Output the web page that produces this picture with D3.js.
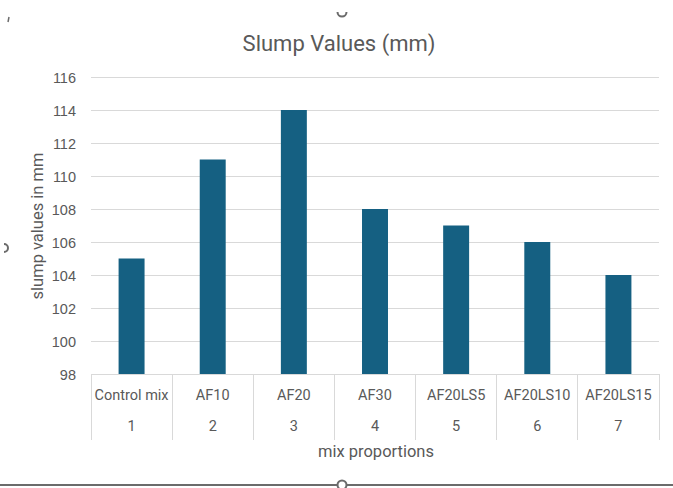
<!DOCTYPE html>
<html>
<head>
<meta charset="utf-8">
<script src="https://cdn.jsdelivr.net/npm/d3@7/dist/d3.min.js"></script>
<style>
  html, body { margin: 0; padding: 0; background: #fff; }
  svg { display: block; font-family: Roboto, "Open Sans", sans-serif; }
</style>
</head>
<body>
<svg id="chart" width="673" height="488"></svg>
<script>
// Slump test results per mix
const mixNames = ["Control mix", "AF10", "AF20", "AF30", "AF20LS5", "AF20LS10", "AF20LS15"];
const mixNumbers = ["1", "2", "3", "4", "5", "6", "7"];
const slumpValues = [105, 111, 114, 108, 107, 106, 104];
const yTicks = [98, 100, 102, 104, 106, 108, 110, 112, 114, 116];

const svg = d3.select("#chart");
const W = 673, H = 488;
const plot = { left: 91, right: 659, top: 77, bottom: 374 };
const textColor = "#595959";
const gridColor = "#d9d9d9";

const x = d3.scaleBand()
  .domain(d3.range(mixNames.length))
  .range([plot.left, plot.right])
  .paddingInner(0)
  .paddingOuter(0);

const y = d3.scaleLinear()
  .domain([98, 116])
  .range([plot.bottom, plot.top]);

// horizontal gridlines
svg.append("g")
  .selectAll("line")
  .data(yTicks)
  .join("line")
  .attr("x1", plot.left).attr("x2", plot.right)
  .attr("y1", d => y(d)).attr("y2", d => y(d))
  .attr("stroke", gridColor).attr("stroke-width", 1)
  .attr("shape-rendering", "crispEdges");

// y axis labels
const yAxis = d3.axisLeft(y).tickValues(yTicks).tickSize(0).tickPadding(15);
const yg = svg.append("g").attr("transform", `translate(${plot.left},0)`).call(yAxis);
yg.select(".domain").remove();
yg.selectAll("text").attr("fill", textColor).style("font-size", "14.5px").attr("dy", "0.35em");

// bars
const barW = x.bandwidth() * 0.32;
svg.append("g")
  .selectAll("rect")
  .data(slumpValues)
  .join("rect")
  .attr("x", (d, i) => x(i) + (x.bandwidth() - barW) / 2)
  .attr("width", barW)
  .attr("y", d => y(d))
  .attr("height", d => y(98) - y(d))
  .attr("fill", "#156082");

// category axis line and multi-level dividers
const axisG = svg.append("g").attr("stroke", gridColor).attr("shape-rendering", "crispEdges");
axisG.append("line")
  .attr("x1", plot.left).attr("x2", plot.right)
  .attr("y1", plot.bottom).attr("y2", plot.bottom);
const dividers = d3.range(mixNames.length + 1).map(i => i < mixNames.length ? x(i) : plot.right);
axisG.selectAll("line.div")
  .data(dividers)
  .join("line")
  .attr("class", "div")
  .attr("x1", d => d).attr("x2", d => d)
  .attr("y1", plot.bottom).attr("y2", 440);

// category labels (two levels)
const labG = svg.append("g").attr("fill", textColor).style("font-size", "14.5px").attr("text-anchor", "middle");
labG.selectAll("text.name")
  .data(mixNames)
  .join("text")
  .attr("class", "name")
  .attr("x", (d, i) => x(i) + x.bandwidth() / 2)
  .attr("y", 400)
  .attr("textLength", d => d.length > 9 ? 74 : null)
  .text(d => d);
labG.selectAll("text.num")
  .data(mixNumbers)
  .join("text")
  .attr("class", "num")
  .attr("x", (d, i) => x(i) + x.bandwidth() / 2)
  .attr("y", 431)
  .text(d => d);

// titles
svg.append("text")
  .attr("x", 339).attr("y", 51)
  .attr("text-anchor", "middle")
  .attr("fill", textColor)
  .style("font-size", "22px")
  .text("Slump Values (mm)");

svg.append("text")
  .attr("x", 376).attr("y", 457)
  .attr("text-anchor", "middle")
  .attr("fill", textColor)
  .style("font-size", "16.5px")
  .text("mix proportions");

svg.append("text")
  .attr("transform", "translate(43,226) rotate(-90)")
  .attr("text-anchor", "middle")
  .attr("fill", textColor)
  .style("font-size", "16.5px")
  .text("slump values in mm");

// frame handles along the chart edges
const handleG = svg.append("g").attr("stroke", "#6b6b6b").attr("fill", "#fff");
handleG.append("line")
  .attr("x1", 0).attr("x2", W).attr("y1", 485).attr("y2", 485)
  .attr("stroke-width", 2);
handleG.append("circle").attr("cx", 342).attr("cy", 485).attr("r", 4.5).attr("stroke-width", 2);
handleG.append("circle").attr("cx", 342).attr("cy", 12).attr("r", 4.5).attr("stroke-width", 2);
handleG.append("circle").attr("cx", 4).attr("cy", 248).attr("r", 4).attr("stroke-width", 2);
handleG.append("line").attr("x1", 9).attr("y1", 17).attr("x2", 8).attr("y2", 22).attr("stroke-width", 1.5);
// mask the top and left edges so only part of those handles shows
svg.append("rect").attr("x", 0).attr("y", 0).attr("width", W).attr("height", 12).attr("fill", "#fff");
svg.append("rect").attr("x", 0).attr("y", 230).attr("width", 4).attr("height", 40).attr("fill", "#fff");
</script>
</body>
</html>
